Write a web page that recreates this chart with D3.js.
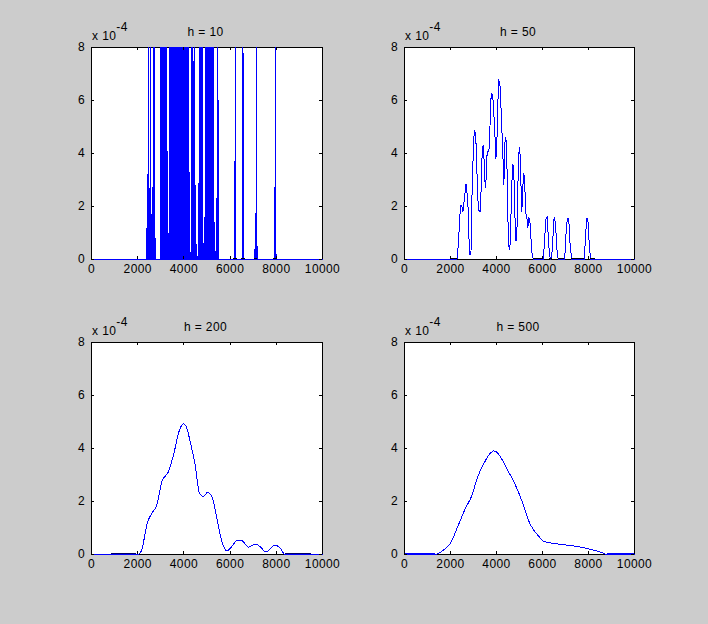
<!DOCTYPE html>
<html>
<head>
<meta charset="utf-8">
<script src="https://cdn.jsdelivr.net/npm/d3@7"></script>
<style>
  body { margin: 0; background: #cccccc; }
  svg { display: block; }
</style>
</head>
<body>
<div id="chart"></div>
<script>
// bandwidths, one panel each
const hValues = [10, 50, 200, 500];
const xTicks = [0, 2000, 4000, 6000, 8000, 10000];
const yTicks = [0, 2, 4, 6, 8];

// h = 10 : spikes [x, density x 1e-4], 8 = runs off the top of the axes
const spikes10 = [
  [2395, 1.2], [2453, 8], [2496, 0.4], [2540, 8], [2583, 1.7], [2641, 2.75], [2684, 8], [2730, 8], [2771, 0.8],
  [2980, 8], [3000, 8], [3020, 8], [3040, 8], [3060, 8], [3080, 8], [3100, 8], [3120, 8], [3140, 8],
  [3160, 8], [3180, 8], [3200, 8], [3232, 8], [3261, 0.3], [3290, 4.1], [3320, 1.0],
  [3377, 8], [3397, 8], [3417, 8], [3437, 8], [3457, 8], [3477, 8], [3497, 8], [3517, 8], [3537, 7.8],
  [3557, 8], [3577, 8], [3597, 8], [3617, 8], [3637, 8], [3657, 8], [3677, 8], [3700, 7.25], [3720, 8],
  [3740, 8], [3760, 8], [3780, 8], [3800, 8], [3820, 8], [3840, 8], [3860, 8], [3883, 6.97], [3903, 8],
  [3923, 8], [3943, 8], [3963, 8], [3983, 8], [4003, 8], [4023, 8], [4043, 8], [4063, 8], [4083, 8],
  [4103, 8], [4123, 8], [4140, 8], [4156, 5.5], [4172, 8], [4186, 8],
  [4242, 3.3], [4315, 0.9], [4345, 8], [4365, 8], [4385, 8], [4403, 7.5], [4444, 1.2], [4470, 8], [4489, 2.8],
  [4560, 0.6], [4661, 8], [4681, 8], [4701, 8], [4719, 7.5], [4737, 8], [4757, 8], [4777, 8], [4792, 8],
  [4820, 0.9], [4877, 1.6],
  [4952, 8], [4972, 8], [4992, 8], [5012, 8], [5032, 8], [5052, 8], [5072, 8], [5095, 8],
  [5168, 8], [5188, 8], [5208, 8], [5228, 8], [5253, 6.7], [5290, 8],
  [5339, 1.4], [5441, 8], [5463, 8], [5485, 6.0],
  [6190, 3.7], [6242, 8], [6537, 8], [6580, 7.8], [7085, 1.0], [7130, 8], [7160, 1.0],
  [7922, 2.75], [7975, 8], [8023, 0.2]
];

// h = 50 : [x, density x 1e-4]
const curve50 = [
  [0, 0], [1994, 0], [2283, 0], [2355, 0.74], [2400, 1.6], [2457, 2.05], [2500, 2.0], [2543, 1.81],
  [2616, 2.38], [2673, 2.86], [2717, 2.5], [2760, 2.0], [2803, 0.8], [2847, 0.16], [2890, 0.24],
  [2934, 2.38], [2991, 4.08], [3035, 4.89], [3092, 4.77], [3136, 3.76], [3179, 2.38], [3237, 1.85],
  [3295, 1.81], [3338, 2.82], [3382, 4.2], [3425, 4.33], [3468, 3.64], [3512, 2.69], [3555, 3.13],
  [3584, 3.91], [3627, 4.08], [3671, 4.08], [3714, 4.96], [3757, 6.05], [3800, 6.28], [3844, 6.09],
  [3887, 5.46], [3931, 4.7], [3974, 3.79], [4017, 4.45], [4061, 5.96], [4104, 6.74], [4147, 6.68],
  [4191, 5.84], [4234, 4.89], [4277, 3.95], [4321, 2.82], [4364, 4.39], [4408, 4.62], [4451, 3.76],
  [4494, 1.56], [4538, 0.49], [4581, 0.36], [4624, 1.5], [4668, 2.88], [4711, 3.61], [4754, 3.26],
  [4798, 1.75], [4841, 0.68], [4884, 0.87], [4928, 2.75], [4971, 4.01], [5014, 4.24], [5058, 3.0],
  [5101, 1.81], [5145, 2.75], [5188, 3.28], [5231, 2.75], [5275, 1.75], [5318, 1.62], [5361, 1.18],
  [5405, 1.56], [5448, 1.5], [5491, 0.87], [5549, 0.18], [5607, 0], [6040, 0], [6098, 0.87],
  [6156, 1.56], [6199, 1.6], [6243, 0.99], [6301, 0.18], [6358, 0], [6431, 0.36], [6488, 1.5],
  [6532, 1.6], [6590, 0.99], [6647, 0.11], [6705, 0], [6965, 0], [7023, 0.99], [7081, 1.56],
  [7139, 1.56], [7197, 0.62], [7269, 0], [7818, 0], [7876, 0.99], [7934, 1.56], [7977, 1.43],
  [8035, 0.55], [8092, 0], [10000, 0]
];

// h = 200
const curve200 = [
  [0, 0], [1965, 0], [2100, 0.05], [2180, 0.2], [2250, 0.45], [2320, 0.8], [2395, 1.12], [2612, 1.56],
  [2828, 1.87], [3045, 2.75], [3333, 3.13], [3550, 3.76], [3810, 4.7], [3983, 4.93], [4127, 4.77],
  [4271, 4.26], [4488, 3.38], [4675, 2.31], [4848, 2.19], [5022, 2.34], [5209, 2.19], [5426, 1.37],
  [5642, 0.49], [5859, 0.14], [6075, 0.3], [6291, 0.52], [6508, 0.52], [6797, 0.28], [7085, 0.39],
  [7302, 0.3], [7547, 0.09], [7951, 0.36], [8167, 0.24], [8384, 0], [10000, 0]
];

// h = 500
const curve500 = [
  [0, 0], [1348, 0], [1500, 0.05], [1710, 0.18], [2000, 0.43], [2290, 1.0], [2652, 1.75], [2943, 2.25],
  [3160, 2.88], [3420, 3.38], [3739, 3.83], [3880, 3.91], [4000, 3.87], [4162, 3.7], [4451, 3.23],
  [4754, 2.75], [5030, 2.19], [5478, 1.12], [5841, 0.68], [6058, 0.49], [6638, 0.4], [7507, 0.3],
  [8013, 0.21], [8522, 0.09], [8812, 0], [10000, 0]
];

// near-zero stretches drawn just above the baseline
const floor10 = [[6150, 6300], [6500, 6650], [7050, 7200], [7880, 8060]];
const floor50 = [[1994, 2283], [5607, 6040], [6300, 6440], [6705, 6965], [7269, 7818], [8092, 8324]];
const floor200 = [[880, 1965], [8384, 9538]];
const floor500 = [[0, 1348], [8812, 10000]];

function spikeLine(sp) {
  const pts = [[0, 0]];
  sp.forEach(([x, v]) => { pts.push([x - 10, 0], [x, v], [x + 10, 0]); });
  pts.push([10000, 0]);
  return pts;
}

const panels = [
  { h: hValues[0], data: spikeLine(spikes10), floor: floor10, floorColor: "#000", smooth: false },
  { h: hValues[1], data: curve50, floor: floor50, floorColor: "#000", smooth: false },
  { h: hValues[2], data: curve200, floor: floor200, floorColor: "#000066", smooth: true },
  { h: hValues[3], data: curve500, floor: floor500, floorColor: "#0000ff", smooth: true }
];

const boxes = [
  { left: 91, top: 47, w: 231, h: 212 },
  { left: 404, top: 47, w: 230, h: 212 },
  { left: 91, top: 342, w: 231, h: 212 },
  { left: 404, top: 342, w: 230, h: 212 }
];

const font = "'Liberation Sans', Arial, Helvetica, sans-serif";

const svg = d3.select("#chart").append("svg")
  .attr("width", 708)
  .attr("height", 624);

svg.append("rect").attr("width", 708).attr("height", 624).attr("fill", "#cccccc");

panels.forEach((p, i) => {
  const b = boxes[i];
  const x = d3.scaleLinear().domain([0, 10000]).range([b.left, b.left + b.w]);
  const y = d3.scaleLinear().domain([0, 8]).range([b.top + b.h, b.top]);

  const g = svg.append("g");

  // axes box
  g.append("rect")
    .attr("x", b.left + 0.5).attr("y", b.top + 0.5)
    .attr("width", b.w).attr("height", b.h)
    .attr("fill", "#fff").attr("stroke", "#000")
    .attr("shape-rendering", "crispEdges");

  svg.append("clipPath").attr("id", "clip" + i)
    .append("rect")
    .attr("x", b.left).attr("y", b.top)
    .attr("width", b.w + 1).attr("height", b.h + 1);

  const plot = g.append("g").attr("clip-path", `url(#clip${i})`);

  const line = d3.line()
    .x(d => x(d[0]) + 0.5)
    .y(d => y(d[1]) + 0.5)
    .curve(p.smooth ? d3.curveMonotoneX : d3.curveLinear);

  plot.append("path")
    .datum(p.data)
    .attr("fill", "none")
    .attr("stroke", "#0000ff")
    .attr("stroke-width", 1)
    .attr("shape-rendering", "crispEdges")
    .attr("d", line);

  plot.selectAll("line.floor")
    .data(p.floor)
    .join("line")
    .attr("class", "floor")
    .attr("x1", d => x(d[0]))
    .attr("x2", d => x(d[1]))
    .attr("y1", y(0) - 0.5)
    .attr("y2", y(0) - 0.5)
    .attr("stroke", p.floorColor)
    .attr("shape-rendering", "crispEdges");

  // ticks, pointing inwards on all four sides
  const styleAxis = sel => {
    sel.select(".domain").remove();
    sel.selectAll("line").attr("stroke", "#000").attr("shape-rendering", "crispEdges");
    sel.selectAll("text")
      .attr("fill", "#000")
      .style("font-family", font)
      .style("font-size", "12px")
      .style("letter-spacing", "0.4px");
  };

  g.append("g")
    .attr("transform", `translate(0,${b.top + b.h})`)
    .call(d3.axisBottom(x).tickValues(xTicks).tickSize(-3).tickPadding(5.5).tickFormat(d3.format("d")))
    .call(styleAxis);

  g.append("g")
    .attr("transform", `translate(0,${b.top})`)
    .call(d3.axisTop(x).tickValues(xTicks).tickSize(-3).tickFormat(""))
    .call(styleAxis);

  g.append("g")
    .attr("transform", `translate(${b.left},0)`)
    .call(d3.axisLeft(y).tickValues(yTicks).tickSize(-3).tickPadding(6))
    .call(styleAxis);

  g.append("g")
    .attr("transform", `translate(${b.left + b.w},0)`)
    .call(d3.axisRight(y).tickValues(yTicks).tickSize(-3).tickFormat(""))
    .call(styleAxis);

  // title
  g.append("text")
    .attr("x", b.left + b.w / 2 - 1)
    .attr("y", b.top - 11)
    .attr("text-anchor", "middle")
    .style("font-family", font)
    .style("font-size", "12px")
    .style("letter-spacing", "0.4px")
    .text(`h = ${p.h}`);

  // exponent label
  const ex = g.append("text")
    .attr("x", b.left + 1)
    .attr("y", b.top - 7)
    .style("font-family", font)
    .style("font-size", "12px")
    .style("letter-spacing", "0.4px");
  ex.append("tspan").text("x 10");
  ex.append("tspan").attr("dy", -9).text("-4");
});
</script>
</body>
</html>
